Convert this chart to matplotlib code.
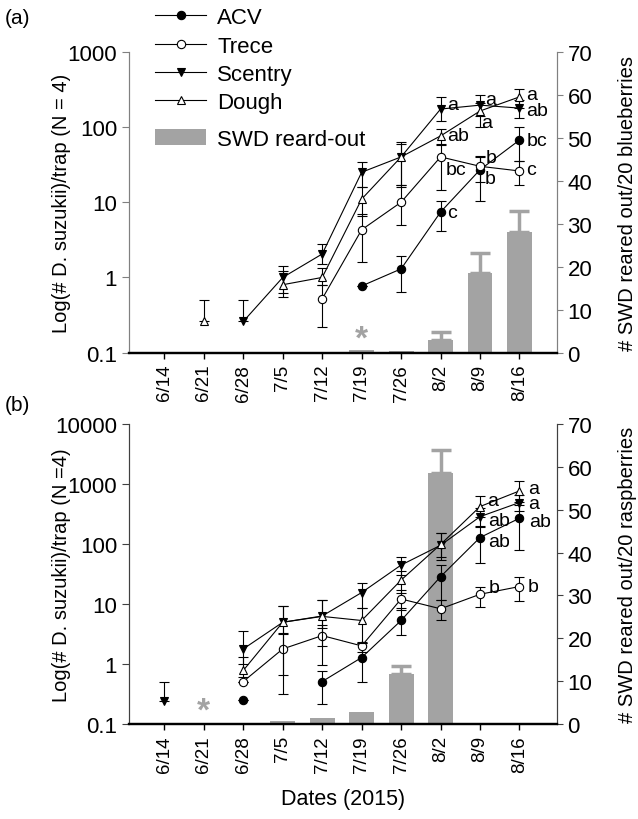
import numpy as np
import matplotlib
matplotlib.use('Agg')
import matplotlib.pyplot as plt
from matplotlib.ticker import NullLocator

plt.rcParams['font.family'] = ['Liberation Sans', 'DejaVu Sans']

nan = np.nan
dates = ['6/14', '6/21', '6/28', '7/5', '7/12', '7/19', '7/26', '8/2', '8/9', '8/16']

# (a) blueberries: trap catches (mean, lower end, upper end of error bar)
acv_a = [nan, nan, nan, nan, nan, 0.77, 1.3, 7.4, 27, 67]
acv_a_lo = [nan, nan, nan, nan, nan, 0.77, 0.65, 4.1, 10.5, 35.5]
acv_a_hi = [nan, nan, nan, nan, nan, 0.77, 1.9, 10.5, 41, 100]
trece_a = [nan, nan, nan, nan, 0.52, 4.3, 10, 40, 30, 26]
trece_a_lo = [nan, nan, nan, nan, 0.22, 1.6, 5, 14.5, 18.5, 17]
trece_a_hi = [nan, nan, nan, nan, 0.8, 7, 17, 58, 40, 35]
scentry_a = [nan, nan, 0.26, 1.0, 2.05, 25, 40, 173, 195, 178]
scentry_a_lo = [nan, nan, 0.26, 0.62, 1.5, 16, 16, 120, 140, 132]
scentry_a_hi = [nan, nan, 0.5, 1.4, 2.75, 34, 63, 250, 265, 230]
dough_a = [nan, 0.26, nan, 0.8, 1.0, 11, 40, 76, 163, 251]
dough_a_lo = [nan, 0.26, nan, 0.55, 0.8, 6.5, 17, 60, 100, 180]
dough_a_hi = [nan, 0.5, nan, 1.2, 1.35, 16, 60, 95, 210, 320]
swd_a = [0, 0, 0, 0, 0, 0.6, 0.4, 3.0, 18.5, 28]
swd_a_err = [0, 0, 0, 0, 0, 0, 0, 1.7, 4.7, 5.0]

# (b) raspberries
acv_b = [nan, nan, 0.25, nan, 0.51, 1.28, 5.3, 28.5, 128, 268]
acv_b_lo = [nan, nan, 0.25, nan, 0.215, 0.51, 3.0, 11.7, 47.5, 80]
acv_b_hi = [nan, nan, 0.25, nan, 0.77, 2.27, 8.5, 45, 200, 450]
trece_b = [nan, nan, 0.51, 1.78, 2.97, 2.0, 12.1, 8.3, 14.5, 19.5]
trece_b_lo = [nan, nan, 0.51, 0.31, 0.96, 1.6, 8, 5.4, 9, 11]
trece_b_hi = [nan, nan, 0.51, 3.25, 4.5, 2.3, 17, 11.7, 18.8, 28.5]
scentry_b = [0.24, nan, 1.78, 4.95, 6.3, 15.5, 44.5, 95, 285, 490]
scentry_b_lo = [0.24, nan, 1.0, 3.2, 4.0, 8.5, 30, 55, 190, 350]
scentry_b_hi = [0.51, nan, 3.55, 9.2, 11.7, 22.7, 61.5, 150, 400, 650]
dough_b = [nan, nan, 0.78, 4.95, 6.2, 5.3, 25, 98, 420, 765]
dough_b_lo = [nan, nan, 0.6, 0.66, 2.0, 2.27, 15, 60, 280, 500]
dough_b_hi = [nan, nan, 1.3, 9.2, 11.7, 8.5, 35, 150, 630, 1100]
swd_b = [0, 0.3, 0, 0.8, 1.4, 2.7, 11.7, 58.5, 0, 0]
swd_b_err = [0, 0, 0, 0, 0, 0, 1.9, 5.3, 0, 0]

# significance letters: (series, date index, letter, dx pt, dy pt)
letters_a = [('Scentry', 7, 'a', 5, 3), ('Dough', 7, 'ab', 5, 0), ('Trece', 7, 'bc', 4, -9),
             ('ACV', 7, 'c', 5, 0), ('Scentry', 8, 'a', 4, 4), ('Dough', 8, 'a', 1, -8),
             ('Trece', 8, 'b', 4, 6), ('ACV', 8, 'b', 3, -6), ('Dough', 9, 'a', 5, 2),
             ('Scentry', 9, 'ab', 5, -2), ('ACV', 9, 'bc', 5, 0), ('Trece', 9, 'c', 5, 1)]
letters_b = [('Dough', 8, 'a', 5, 4), ('Scentry', 8, 'ab', 6, -3), ('ACV', 8, 'ab', 6, -3),
             ('Trece', 8, 'b', 6, 5), ('Dough', 9, 'a', 6, 2), ('Scentry', 9, 'a', 6, -1),
             ('ACV', 9, 'ab', 7, -2), ('Trece', 9, 'b', 6, 0)]

BAR = '#a3a3a3'
fig = plt.figure(figsize=(6.38, 8.2), dpi=100)
x = np.arange(1, len(dates) + 1)


def panel(rect, series, swd, swd_err, ymax, ylabel, rlabel, letters, star, spc):
    ax = fig.add_axes(rect)
    swd = np.array(swd, float)
    err = np.array(swd_err, float)
    bars = ax.bar(x, swd, width=0.63, color=BAR, zorder=1, label='SWD reard-out')
    m = err > 0
    ax.errorbar(x[m], swd[m], yerr=[np.zeros(m.sum()), err[m]], fmt='none',
                ecolor=BAR, elinewidth=2.5, capsize=7, capthick=2.5)
    ax.annotate('*', (x[star], swd[star]), xytext=(0, -3), textcoords='offset points',
                ha='center', va='bottom', color=BAR, fontsize=24, fontweight='bold')
    ax.set_ylim(0, 70)
    ax.set_xlim(0.1, 10.95)

    ax2 = ax.twinx()
    pts = {}
    handles = []
    for name, vals, lo, hi, mk, face in series:
        v = np.array(vals, float)
        ax2.errorbar(x, v, yerr=[v - np.array(lo), np.array(hi) - v], fmt='none',
                     ecolor='black', elinewidth=0.8, capsize=3.5, capthick=0.8)
        ln, = ax2.plot(x, v, color='black', lw=0.8, marker=mk, mfc=face, mec='black',
                       mew=0.8, ms=6, label=name)
        handles.append(ln)
        pts[name] = v
    for name, i, txt, dx, dy in letters:
        ax2.annotate(txt, (x[i], pts[name][i]), xytext=(dx, dy), textcoords='offset points',
                     ha='left', va='center', fontsize=14)
    ax2.set_yscale('log')
    ax2.set_ylim(0.1, ymax)
    ticks = [0.1, 1, 10, 100, 1000, 10000]
    ticks = [t for t in ticks if t <= ymax]
    ax2.set_yticks(ticks)
    ax2.set_yticklabels([('%g' % t) for t in ticks])
    ax2.yaxis.set_minor_locator(NullLocator())

    # swap sides: log catches on the left, reared-out on the right
    ax2.yaxis.tick_left()
    ax2.yaxis.set_label_position('left')
    ax.yaxis.tick_right()
    ax.yaxis.set_label_position('right')
    ax.set_yticks(range(0, 71, 10))

    ax.set_xticks(x)
    ax.set_xticklabels(dates, rotation=90, fontsize=13.5)
    ax.tick_params(axis='x', length=4, width=1, direction='out', pad=4)
    ax.tick_params(axis='y', labelsize=16, length=4, color=spc, direction='out')
    ax2.tick_params(axis='y', labelsize=16, length=5, color=spc, direction='out')

    for a in (ax, ax2):
        a.spines['top'].set_visible(False)
        a.spines['left'].set_color(spc)
        a.spines['right'].set_color(spc)
        a.spines['bottom'].set_linewidth(1.6)
    ax2.set_ylabel(ylabel, fontsize=14.5)
    ax2.yaxis.set_label_coords(-0.135, 0.5)
    ax.set_ylabel(rlabel, fontsize=14.5)
    ax.yaxis.set_label_coords(1.143, 0.5)
    return handles, bars


series_a = [('ACV', acv_a, acv_a_lo, acv_a_hi, 'o', 'black'),
            ('Trece', trece_a, trece_a_lo, trece_a_hi, 'o', 'white'),
            ('Scentry', scentry_a, scentry_a_lo, scentry_a_hi, 'v', 'black'),
            ('Dough', dough_a, dough_a_lo, dough_a_hi, '^', 'white')]
series_b = [('ACV', acv_b, acv_b_lo, acv_b_hi, 'o', 'black'),
            ('Trece', trece_b, trece_b_lo, trece_b_hi, 'o', 'white'),
            ('Scentry', scentry_b, scentry_b_lo, scentry_b_hi, 'v', 'black'),
            ('Dough', dough_b, dough_b_lo, dough_b_hi, '^', 'white')]

h, bars = panel([0.202, 0.5687, 0.671, 0.367], series_a, swd_a, swd_a_err, 1000,
                'Log(# D. suzukii)/trap (N = 4)', '# SWD reared out/20 blueberries',
                letters_a, 5, '#808080')
panel([0.202, 0.1159, 0.671, 0.3659], series_b, swd_b, swd_b_err, 10000,
      'Log(# D. suzukii)/trap (N =4)', '# SWD reared out/20 raspberries',
      letters_b, 1, '#404040')

fig.legend(handles=h, loc='upper left', bbox_to_anchor=(0.243, 0.99), frameon=False,
           fontsize=16, handlelength=2.3, handletextpad=0.5, labelspacing=0.33,
           borderpad=0, borderaxespad=0)
fig.legend(handles=[bars], loc='upper left', bbox_to_anchor=(0.243, 0.842), frameon=False,
           fontsize=16, handlelength=2.3, handletextpad=0.5, borderpad=0, borderaxespad=0)

fig.text(0.028, 0.978, '(a)', ha='center', va='center', fontsize=15)
fig.text(0.028, 0.506, '(b)', ha='center', va='center', fontsize=15)
fig.text(0.5376, 0.0244, 'Dates (2015)', ha='center', va='center', fontsize=15.5)

fig.savefig('out.png', dpi=100)
